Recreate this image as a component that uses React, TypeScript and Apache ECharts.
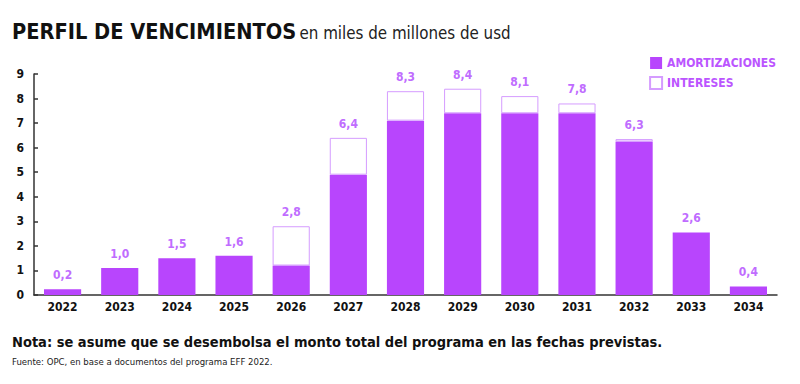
import React, { useEffect, useRef } from "react";
import * as echarts from "echarts";

const years = ["2022","2023","2024","2025","2026","2027","2028","2029","2030","2031","2032","2033","2034"];
const amortizaciones = [0.23, 1.1, 1.5, 1.6, 1.2, 4.9, 7.1, 7.4, 7.4, 7.4, 6.25, 2.55, 0.35];
const intereses = [0, 0, 0, 0, 1.6, 1.5, 1.2, 1.0, 0.7, 0.4, 0.1, 0, 0];
const totales = [0.2, 1.0, 1.5, 1.6, 2.8, 6.4, 8.3, 8.4, 8.1, 7.8, 6.3, 2.6, 0.4];
const yTicks = [0, 1, 2, 3, 4, 5, 6, 7, 8, 9];

const FONT = "'Liberation Sans Narrow', 'DejaVu Sans Condensed', Roboto, sans-serif";
const PURPLE = "#b845fd";
const LABEL = "#c06cff";

export default function App() {
  const ref = useRef<HTMLDivElement>(null);
  useEffect(() => {
    if (!ref.current) return;
    const chart = echarts.init(ref.current, undefined, { renderer: "svg" });
    chart.setOption({
      animation: false,
      textStyle: { fontFamily: FONT },
      legend: {
        orient: "vertical",
        right: 19,
        top: 52,
        itemWidth: 12,
        itemHeight: 12,
        itemGap: 7,
        icon: "rect",
        textStyle: { color: "#bb55ff", fontSize: 12, fontWeight: "bold", fontFamily: FONT },
        data: ["AMORTIZACIONES", "INTERESES"],
      },
      grid: { left: 34, right: 23, top: 74, bottom: 89, containLabel: false },
      xAxis: {
        type: "category",
        data: years,
        axisLine: { lineStyle: { color: "#333", width: 1.5 } },
        axisTick: { show: false },
        axisLabel: { color: "#111", fontWeight: "bold", fontSize: 12, margin: 6, fontFamily: FONT },
      },
      yAxis: {
        type: "value",
        min: yTicks[0],
        max: yTicks[yTicks.length - 1],
        interval: 1,
        splitLine: { show: false },
        axisLine: { show: true, lineStyle: { color: "#333", width: 1.5 } },
        axisTick: { show: true, inside: true, length: 4, lineStyle: { color: "#333", width: 1.5 } },
        axisLabel: { color: "#111", fontWeight: "bold", fontSize: 12, margin: 10, fontFamily: FONT },
      },
      series: [
        {
          name: "AMORTIZACIONES",
          type: "bar",
          stack: "t",
          barCategoryGap: "35%",
          itemStyle: { color: PURPLE },
          data: amortizaciones,
        },
        {
          name: "INTERESES",
          type: "bar",
          stack: "t",
          itemStyle: { color: "#fff", borderColor: "#d59cff", borderWidth: 1 },
          data: intereses.map((v) =>
            v === 0 ? { value: v, itemStyle: { borderWidth: 0, color: "transparent" } } : v
          ),
          label: {
            show: true,
            position: "top",
            distance: 8,
            color: LABEL,
            fontWeight: "bold",
            fontSize: 12,
            fontFamily: FONT,
            formatter: (p: any) => totales[p.dataIndex].toFixed(1).replace(".", ","),
          },
        },
      ],
      graphic: [
        {
          type: "text",
          left: 12,
          top: 20,
          style: {
            text: "{a|PERFIL DE VENCIMIENTOS} {b|en miles de millones de usd}",
            rich: {
              a: { fontSize: 21.6, fontWeight: "bold", fill: "#111", fontFamily: FONT },
              b: { fontSize: 16.8, fill: "#222", fontFamily: FONT, padding: [4, 0, 0, 0] },
            },
          },
        },
        {
          type: "text",
          left: 12,
          top: 334,
          style: {
            text: "Nota: se asume que se desembolsa el monto total del programa en las fechas previstas.",
            fontSize: 14.5,
            fontWeight: "bold",
            fill: "#111",
            fontFamily: FONT,
          },
        },
        {
          type: "text",
          left: 12,
          top: 356,
          style: {
            text: "Fuente: OPC, en base a documentos del programa EFF 2022.",
            fontSize: 9.5,
            fill: "#222",
            fontFamily: FONT,
          },
        },
      ],
    });
    return () => chart.dispose();
  }, []);
  return <div ref={ref} style={{ width: 800, height: 384, margin: -8, background: "#fff" }} />;
}
